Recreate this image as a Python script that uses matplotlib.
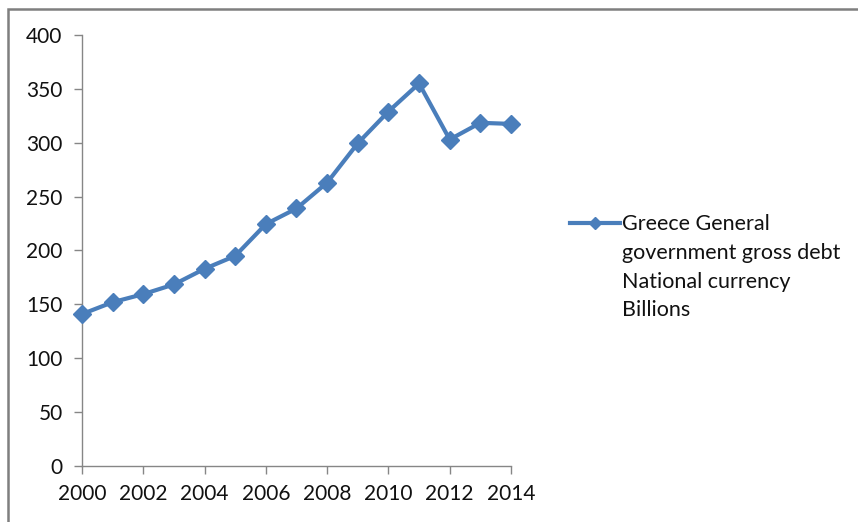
import matplotlib.pyplot as plt
from matplotlib.patches import Rectangle

plt.rcParams['font.family'] = ['Lato', 'DejaVu Sans']

years = [2000, 2001, 2002, 2003, 2004, 2005, 2006, 2007,
         2008, 2009, 2010, 2011, 2012, 2013, 2014]
debt = [141, 152, 159.5, 168.5, 183, 195, 224.5, 239,
        263, 299.5, 329, 355, 303, 318.5, 317.5]
label = "Greece General\ngovernment gross debt\nNational currency\nBillions"
x_ticks = list(range(2000, 2015, 2))
y_ticks = list(range(0, 401, 50))

blue = '#4A7EBB'
grey = '#868686'

fig = plt.figure(figsize=(8.58, 5.22), dpi=100)
ax = fig.add_axes([82 / 858, 1 - 466 / 522, 429 / 858, 431 / 522])

ax.plot(years, debt, color=blue, lw=3, marker='D', ms=9.5,
        mfc=blue, mec=blue, label=label, clip_on=False, zorder=5)

ax.set_xlim(2000, 2014)
ax.set_ylim(0, 400)
ax.set_xticks(x_ticks)
ax.set_yticks(y_ticks)
for s in ['top', 'right']:
    ax.spines[s].set_visible(False)
for s in ['left', 'bottom']:
    ax.spines[s].set_color(grey)
    ax.spines[s].set_linewidth(1)
ax.tick_params(length=6, width=1, color=grey, labelsize=15,
               labelcolor='#111111')
ax.tick_params(axis='y', pad=8)
ax.tick_params(axis='x', pad=7)

leg = ax.legend(loc='upper left', bbox_to_anchor=(570 / 858, 1 - 214 / 522),
                bbox_transform=fig.transFigure, frameon=False,
                fontsize=15.5, handlelength=2.3, handletextpad=0.1,
                handleheight=1.1, markerscale=0.62,
                borderpad=0, borderaxespad=0)
for t in leg.get_texts():
    t.set_linespacing(1.55)
    t.set_color('#111111')
# put the marker line next to the first text line, as Excel does
for col in leg._legend_handle_box.get_children():
    for row in col.get_children():
        row.align = 'top'

# outer chart border (gray frame, cut off at right and bottom)
fig.patches.append(Rectangle((8 / 858, -0.1), 1.0, 1.1 - 9 / 522,
                             transform=fig.transFigure, fill=False,
                             edgecolor='#7f7f7f', lw=1.8, clip_on=False))

fig.savefig('out.png', dpi=100)
